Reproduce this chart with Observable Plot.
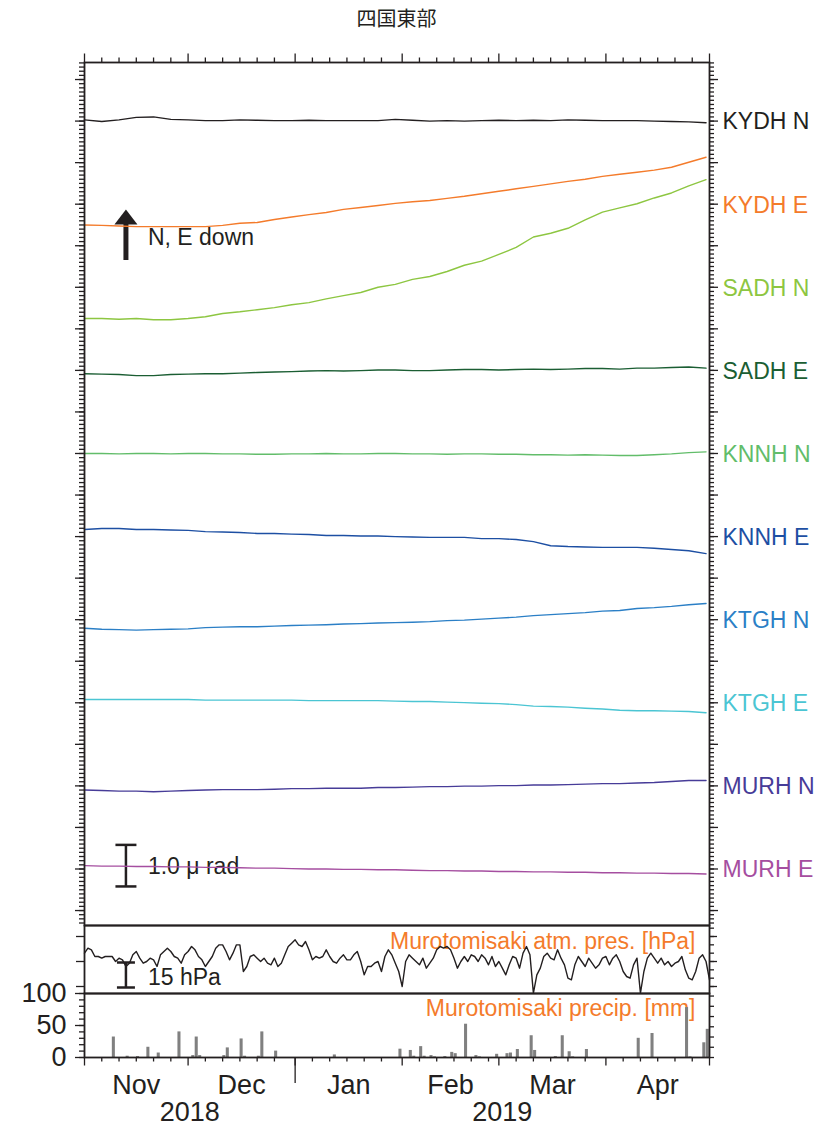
<!DOCTYPE html>
<html><head><meta charset="utf-8">
<script src="https://cdn.jsdelivr.net/npm/d3@7"></script>
<script src="https://cdn.jsdelivr.net/npm/@observablehq/plot@0.6"></script>
<style>
body{margin:0;background:#fff;}
#wrap{position:relative;width:826px;height:1128px;overflow:hidden;}
#title{position:absolute;left:0;top:6px;width:793px;text-align:center;font-size:20px;line-height:24px;font-family:"Noto Sans CJK JP","Noto Sans CJK SC",sans-serif;color:#231f20;}
</style></head><body><div id="wrap"><div id="title">四国東部</div></div>
<script>
// ---------- data ----------
const startDate = Date.UTC(2018, 10, 1);
const endDate = Date.UTC(2019, 4, 1);
const DAY = 864e5;
const tiltStepDays = 5;

const traceNames = ["KYDH N","KYDH E","SADH N","SADH E","KNNH N","KNNH E","KTGH N","KTGH E","MURH N","MURH E"];
const traceColors = ["#231f20","#f47b2b","#8dc641","#1b5e33","#62bd6a","#1d4fa3","#2b7fc6","#4bc5d3","#473c98","#a54ea0"];
const labelTicks = [-1,-3,-5,-7,-9,-11,-13,-15,-17,-19];
const traceBase = [-0.99,-2.98,-4.98,-6.97,-8.96,-10.95,-12.95,-14.94,-16.93,-18.92];

// tilt values (micro-radian, relative to base), every 5 days from 2018-11-01
const kydhN = [0.02,-0.02,0.02,0.08,0.09,0.03,0.02,0,0,0.02,0.01,0,0,0.01,0,0,0,0,0.03,0.01,-0.01,0,-0.01,0,0.01,0,0.01,0,0.02,0.01,0,0,0,-0.01,-0.02,-0.03,-0.05];
const kydhE = [-0.52,-0.53,-0.545,-0.56,-0.56,-0.56,-0.56,-0.56,-0.53,-0.48,-0.46,-0.39,-0.33,-0.27,-0.22,-0.145,-0.1,-0.05,0,0.04,0.07,0.12,0.17,0.23,0.29,0.35,0.41,0.47,0.53,0.58,0.65,0.70,0.75,0.80,0.87,0.99,1.11];
const sadhN = [-0.77,-0.77,-0.79,-0.77,-0.80,-0.80,-0.77,-0.73,-0.65,-0.61,-0.56,-0.51,-0.44,-0.39,-0.30,-0.22,-0.145,-0.02,0.05,0.17,0.24,0.36,0.51,0.61,0.77,0.94,1.19,1.28,1.40,1.60,1.79,1.89,1.99,2.13,2.25,2.42,2.57];
const sadhE = [-0.11,-0.12,-0.13,-0.155,-0.155,-0.13,-0.12,-0.11,-0.11,-0.095,-0.08,-0.07,-0.06,-0.045,-0.035,-0.045,-0.035,-0.02,-0.02,-0.035,-0.035,-0.02,-0.01,-0.01,-0.02,-0.01,0,-0.01,0,0.015,0.015,0,0.025,0.025,0.04,0.05,0.025];
const knnhN = [-0.04,-0.04,-0.05,-0.04,-0.04,-0.05,-0.04,-0.04,-0.05,-0.05,-0.06,-0.06,-0.05,-0.05,-0.04,-0.05,-0.05,-0.04,-0.04,-0.05,-0.05,-0.06,-0.05,-0.05,-0.06,-0.06,-0.07,-0.07,-0.08,-0.07,-0.08,-0.09,-0.09,-0.07,-0.05,-0.02,0.0];
const knnhE = [0.12,0.145,0.145,0.12,0.12,0.11,0.10,0.07,0.06,0.05,0.025,0.025,0.01,0,-0.025,-0.025,-0.035,-0.035,-0.05,-0.06,-0.07,-0.07,-0.07,-0.10,-0.10,-0.12,-0.17,-0.27,-0.29,-0.30,-0.31,-0.31,-0.31,-0.33,-0.36,-0.39,-0.46];
const ktghN = [-0.255,-0.28,-0.29,-0.30,-0.29,-0.28,-0.27,-0.24,-0.23,-0.22,-0.22,-0.205,-0.19,-0.18,-0.17,-0.155,-0.145,-0.13,-0.12,-0.11,-0.097,-0.073,-0.06,-0.036,-0.012,0.012,0.048,0.073,0.097,0.12,0.157,0.17,0.22,0.24,0.27,0.31,0.34];
const ktghE = [0.02,0.02,0.02,0.02,0.02,0.02,0.02,0.005,0.005,0.005,0.005,0.005,0.005,-0.007,-0.007,-0.007,-0.007,-0.007,-0.02,-0.03,-0.03,-0.045,-0.055,-0.07,-0.08,-0.105,-0.14,-0.15,-0.165,-0.19,-0.21,-0.24,-0.25,-0.25,-0.26,-0.27,-0.30];
const murhN = [-0.17,-0.18,-0.195,-0.195,-0.21,-0.195,-0.18,-0.17,-0.16,-0.16,-0.16,-0.15,-0.135,-0.135,-0.125,-0.125,-0.125,-0.11,-0.11,-0.10,-0.087,-0.087,-0.075,-0.075,-0.063,-0.063,-0.05,-0.05,-0.04,-0.027,-0.015,-0.015,0,0.01,0.034,0.058,0.058];
const murhE = [0,-0.01,-0.01,-0.02,-0.02,-0.03,-0.03,-0.04,-0.04,-0.05,-0.06,-0.06,-0.07,-0.08,-0.08,-0.09,-0.09,-0.1,-0.1,-0.11,-0.12,-0.12,-0.13,-0.13,-0.14,-0.14,-0.15,-0.15,-0.16,-0.16,-0.17,-0.17,-0.18,-0.18,-0.19,-0.19,-0.2];
const traceValues = [kydhN,kydhE,sadhN,sadhE,knnhN,knnhE,ktghN,ktghE,murhN,murhE];

// Murotomisaki daily atmospheric pressure (hPa) from 2018-11-01
const pressure = [1025,1028,1027,1023,1023,1022,1023,1023,1023,1020,
1022,1021,1017,1019,1024,1026,1022,1019,1020,1022,
1021,1017,1024,1026,1028,1026,1023,1022,1019,1024,
1026,1029,1027,1023,1021,1017,1020,1023,1028,1030,
1030,1026,1021,1025,1030,1030,1014,1017,1023,1024,
1022,1020,1022,1019,1018,1022,1017,1019,1024,1029,
1031,1033,1030,1029,1032,1027,1021,1023,1022,1023,
1027,1023,1020,1019,1022,1024,1021,1021,1024,1026,
1020,1012,1017,1017,1019,1020,1014,1023,1027,1024,
1019,1014,1005,1020,1024,1022,1020,1018,1022,1016,
1019,1022,1027,1029,1028,1029,1027,1022,1016,1020,
1023,1020,1024,1023,1020,1024,1022,1018,1023,1017,
1020,1016,1012,1018,1023,1022,1016,1025,1029,1024,
1001,1012,1016,1023,1025,1022,1021,1027,1022,1018,
1010,1009,1018,1023,1020,1017,1022,1019,1016,1018,
1022,1023,1018,1022,1024,1020,1014,1011,1010,1018,
1022,1001,1014,1022,1025,1022,1019,1022,1018,1020,
1017,1019,1020,1023,1015,1010,1009,1014,1022,1024,
1020,1009];

// Murotomisaki daily precipitation (mm): day index from 2018-11-01
const precipDay = [8,12,15,18,21,27,31,32,33,40,41,45,46,50,51,55,72,91,94,95,97,98,100,101,104,106,107,110,113,114,119,122,123,125,129,130,136,138,140,141,145,160,164,174,175,179,180];
const precipMm = [32,2,1.5,16,7,40,3,32,3,3,15,29,2,2,40,10,4,13,11,2,17,2,3,1,1.5,8,6,52,3,1,5,6,7,12.5,34,11,1.5,34,9,1,12.5,30,37.5,78,1,23,44];

// axis ticks / labels
const monthStarts = ["2018-11-01","2018-12-01","2019-01-01","2019-02-01","2019-03-01","2019-04-01","2019-05-01"];
const minorTickDays = [6,11,16,21,26];
const monthLabels = ["Nov","Dec","Jan","Feb","Mar","Apr"];
const yearLabels = ["2018","2019"];
const yearStarts = ["2018-11-01","2019-01-01","2019-05-01"];
const precipTickLabels = [0, 50, 100];
const pressureTitle = "Murotomisaki atm. pres. [hPa]";
const precipTitle = "Murotomisaki precip. [mm]";

// annotations (data coordinates)
const arrowAnn = {date:"2018-11-13", low:-4.356, high:-3.44, head:-3.32, textY:-3.80, label:"N, E down"};
const tiltBar = {date:"2018-11-13", low:-19.42, high:-18.42, textY:-18.94, label:"1.0 μ rad"};
const presBar = {date:"2018-11-13", low:1004.4, high:1019.4, textY:1010.4, label:"15 hPa"};

// ---------- build ----------
const ink = "#231f20";
const orange = "#f47b2b";
const font = "'Liberation Sans', Arial, Helvetica, sans-serif";
const D = s => new Date(s + "T00:00:00Z");
const monthStartDates = monthStarts.map(D);
const minorX = monthStartDates.slice(0, -1).flatMap(m => minorTickDays.map(d => new Date(Date.UTC(m.getUTCFullYear(), m.getUTCMonth(), d))));
const monthRows = monthLabels.map((l, i) => ({label: l, date: new Date((+monthStartDates[i] + +monthStartDates[i + 1]) / 2)}));
const yearRows = yearLabels.map((l, i) => ({label: l, date: new Date((+D(yearStarts[i]) + +D(yearStarts[i + 1])) / 2)}));
const x0 = () => new Date(startDate);
const x1 = () => new Date(endDate);
const xScale = {type: "utc", domain: [new Date(startDate), new Date(endDate)], axis: null};
const baseOpts = {width: 826, marginLeft: 84, marginRight: 117};
const style = {background: "transparent", overflow: "visible", fontFamily: font, color: ink};
const TW = 1.3;

// outward tick helpers built from rule marks
const leftTicks = (vals, len) => Plot.ruleY(vals, {x1: x0, x2: x0, insetLeft: -len, stroke: ink, strokeWidth: TW});
const rightTicks = (vals, len) => Plot.ruleY(vals, {x1: x1, x2: x1, insetRight: -len, stroke: ink, strokeWidth: TW});
const topTicks = (vals, yTop, len) => Plot.ruleX(vals, {y1: () => yTop, y2: () => yTop, insetTop: -len, stroke: ink, strokeWidth: TW});
const bottomTicks = (vals, yBot, len) => Plot.ruleX(vals, {y1: () => yBot, y2: () => yBot, insetBottom: -len, stroke: ink, strokeWidth: TW});

const tiltRows = traceValues.map((vals, i) => vals.map((v, k) => ({date: new Date(startDate + k * tiltStepDays * DAY), y: traceBase[i] + v})));
const presRows = pressure.map((p, i) => ({date: new Date(startDate + i * DAY), p}));
const precipRows = precipDay.map((d, i) => ({d1: new Date(startDate + d * DAY), d2: new Date(startDate + (d + 1) * DAY), mm: precipMm[i]}));

const arrowHead = {draw(ctx) { ctx.moveTo(0, -8); ctx.lineTo(11.5, 7); ctx.lineTo(-11.5, 7); ctx.closePath(); }};
const capWide = {draw(ctx) { ctx.moveTo(-10.5, 0); ctx.lineTo(10.5, 0); }};
const capNarrow = {draw(ctx) { ctx.moveTo(-9, 0); ctx.lineTo(9, 0); }};

const tiltDomain = [-20.36, 0.41];
const minorY = d3.range(-203, 5).map(i => i / 10);
const majorY = d3.range(-20, 1);

const p1 = Plot.plot({
  ...baseOpts, height: 888, marginTop: 22, marginBottom: 3, style,
  x: xScale,
  y: {domain: tiltDomain, axis: null},
  marks: [
    leftTicks(minorY, 5), leftTicks(majorY, 9),
    rightTicks(minorY, 5), rightTicks(majorY, 9),
    topTicks(minorX, tiltDomain[1], 4.5), topTicks(monthStartDates, tiltDomain[1], 8.5),
    // annotations
    Plot.ruleX([arrowAnn], {x: d => D(d.date), y1: "low", y2: "high", stroke: ink, strokeWidth: 5}),
    Plot.dot([arrowAnn], {x: d => D(d.date), y: "head", symbol: arrowHead, fill: ink, stroke: "none"}),
    Plot.text([arrowAnn], {x: d => D(d.date), y: "textY", text: "label", dx: 22, textAnchor: "start", fontSize: 23, fill: ink}),
    Plot.ruleX([tiltBar], {x: d => D(d.date), y1: "low", y2: "high", stroke: ink, strokeWidth: 2.5}),
    Plot.dot([tiltBar, tiltBar].map((d, i) => ({date: d.date, y: i ? d.high : d.low})), {x: d => D(d.date), y: "y", symbol: capWide, stroke: ink, strokeWidth: 2.5, fill: "none"}),
    Plot.text([tiltBar], {x: d => D(d.date), y: "textY", text: "label", dx: 22, textAnchor: "start", fontSize: 23, fill: ink}),
    // traces
    ...tiltRows.map((rows, i) => Plot.line(rows, {x: "date", y: "y", stroke: traceColors[i], strokeWidth: 1.4})),
    ...traceNames.map((n, i) => Plot.text([n], {frameAnchor: "right", y: () => labelTicks[i], text: d => d, dx: 13, dy: 1, textAnchor: "start", fontSize: 23, fill: traceColors[i]})),
    Plot.frame({stroke: ink, strokeWidth: 1.8})
  ]
});

const p2 = Plot.plot({
  ...baseOpts, height: 74, marginTop: 3, marginBottom: 3, style,
  x: xScale,
  y: {domain: [1000.8, 1041.6], axis: null},
  marks: [
    leftTicks([1005, 1020, 1035], 8),
    rightTicks(d3.range(1005, 1041, 5), 5),
    rightTicks([1005, 1020, 1035], 8),
    Plot.text([pressureTitle], {frameAnchor: "top-right", text: d => d, dx: -14, dy: 16, lineAnchor: "middle", textAnchor: "end", fontSize: 23, fill: orange}),
    Plot.line(presRows, {x: "date", y: "p", stroke: ink, strokeWidth: 1.4}),
    Plot.ruleX([presBar], {x: d => D(d.date), y1: "low", y2: "high", stroke: ink, strokeWidth: 2.5}),
    Plot.dot([presBar, presBar].map((d, i) => ({date: d.date, y: i ? d.high : d.low})), {x: d => D(d.date), y: "y", symbol: capNarrow, stroke: ink, strokeWidth: 2.5, fill: "none"}),
    Plot.text([presBar], {x: d => D(d.date), y: "textY", text: "label", dx: 22, textAnchor: "start", fontSize: 23, fill: ink}),
    Plot.frame({stroke: ink, strokeWidth: 1.8})
  ]
});

const p3 = Plot.plot({
  ...baseOpts, height: 138, marginTop: 3, marginBottom: 71, style,
  x: xScale,
  y: {domain: [0, 100], axis: null},
  marks: [
    leftTicks(d3.range(0, 101, 10), 5),
    leftTicks(precipTickLabels, 9),
    Plot.text(precipTickLabels, {frameAnchor: "left", y: d => d, text: d => String(d), dx: -18, textAnchor: "end", lineAnchor: "middle", fontSize: 27, fill: ink}),
    rightTicks(d3.range(0, 97, 16), 5),
    bottomTicks(minorX, 0, 4.5),
    bottomTicks(monthStartDates, 0, 8.5),
    bottomTicks([D(yearStarts[1])], 0, 26),
    Plot.text(monthRows, {x: "date", text: "label", frameAnchor: "bottom", dy: 28, lineAnchor: "middle", fontSize: 27, fill: ink}),
    Plot.text(yearRows, {x: "date", text: "label", frameAnchor: "bottom", dy: 55, lineAnchor: "middle", fontSize: 27, fill: ink}),
    Plot.text([precipTitle], {frameAnchor: "top-right", text: d => d, dx: -14, dy: 15, lineAnchor: "middle", textAnchor: "end", fontSize: 23, fill: orange}),
    Plot.rectY(precipRows, {x1: "d1", x2: "d2", y: "mm", fill: "#808080", insetLeft: 0.2, insetRight: 0.2}),
    Plot.frame({stroke: ink, strokeWidth: 1.8})
  ]
});

const wrap = document.getElementById("wrap");
[[p1, 40], [p2, 922], [p3, 990]].forEach(([svg, top]) => {
  svg.style.position = "absolute";
  svg.style.left = "0px";
  svg.style.top = top + "px";
  wrap.appendChild(svg);
});
</script>
</body></html>
